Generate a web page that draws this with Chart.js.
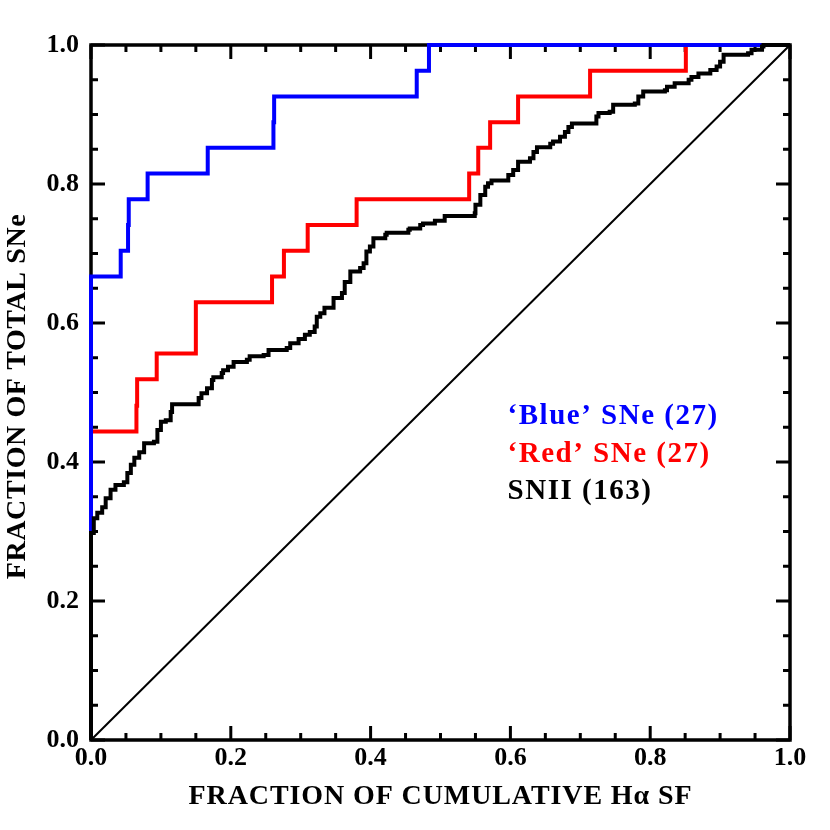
<!DOCTYPE html>
<html>
<head>
<meta charset="utf-8">
<script src="https://cdn.jsdelivr.net/npm/chart.js@4.4.1/dist/chart.umd.min.js"></script>
<style>
  html, body { margin: 0; padding: 0; background: #fff; }
  #wrap { width: 830px; height: 830px; }
</style>
</head>
<body>
<div id="wrap"><canvas id="grafico"></canvas></div>
<script>
// fração acumulada (eixo x) e fração de SNe (eixo y)
const blueX = [0, 0, 0.0425, 0.053, 0.054, 0.081, 0.167, 0.261, 0.262, 0.466, 0.4835, 1.0];
const blueY = [0, 0.667, 0.704, 0.741, 0.778, 0.815, 0.852, 0.889, 0.926, 0.963, 1.0, 1.0];

const redX = [0, 0, 0.065, 0.066, 0.094, 0.150, 0.259, 0.276, 0.310, 0.380, 0.541, 0.554, 0.571, 0.611, 0.714, 0.851, 1.0];
const redY = [0, 0.444, 0.481, 0.519, 0.556, 0.630, 0.667, 0.704, 0.741, 0.778, 0.815, 0.852, 0.889, 0.926, 0.963, 1.0, 1.0];

const sniiX = [0, 0, 0.004, 0.009, 0.016, 0.021, 0.028, 0.035, 0.047, 0.052, 0.057, 0.062, 0.069, 0.076, 0.090, 0.095,
  0.100, 0.107, 0.114, 0.116, 0.154, 0.158, 0.166, 0.173, 0.175, 0.187, 0.189, 0.196, 0.204, 0.223, 0.227, 0.247,
  0.254, 0.280, 0.285, 0.297, 0.306, 0.313, 0.320, 0.323, 0.328, 0.334, 0.347, 0.359, 0.363, 0.371, 0.385, 0.390,
  0.394, 0.399, 0.404, 0.421, 0.423, 0.454, 0.456, 0.471, 0.475, 0.492, 0.506, 0.549, 0.550, 0.557, 0.564, 0.568,
  0.573, 0.597, 0.604, 0.611, 0.628, 0.633, 0.638, 0.657, 0.661, 0.671, 0.678, 0.683, 0.688, 0.723, 0.726, 0.742,
  0.747, 0.778, 0.783, 0.790, 0.821, 0.824, 0.835, 0.855, 0.859, 0.869, 0.886, 0.895, 0.900, 0.905, 0.940, 0.945,
  0.960, 0.962, 1.0];
const sniiY = [0, 0.298, 0.319, 0.327, 0.335, 0.348, 0.360, 0.367, 0.371, 0.384, 0.396, 0.406, 0.414, 0.427, 0.429, 0.446,
  0.458, 0.460, 0.472, 0.483, 0.492, 0.499, 0.506, 0.518, 0.522, 0.528, 0.532, 0.537, 0.544, 0.547, 0.552, 0.554,
  0.561, 0.564, 0.571, 0.577, 0.583, 0.587, 0.595, 0.609, 0.614, 0.622, 0.636, 0.643, 0.659, 0.674, 0.679, 0.686,
  0.703, 0.710, 0.722, 0.727, 0.730, 0.734, 0.736, 0.741, 0.743, 0.747, 0.754, 0.758, 0.770, 0.784, 0.796, 0.801,
  0.805, 0.813, 0.820, 0.832, 0.837, 0.846, 0.853, 0.858, 0.861, 0.868, 0.875, 0.882, 0.887, 0.897, 0.902, 0.904,
  0.914, 0.916, 0.926, 0.933, 0.935, 0.940, 0.945, 0.950, 0.954, 0.959, 0.964, 0.969, 0.976, 0.986, 0.988, 0.993,
  0.998, 1.0, 1.0];

const diagX = [0, 1];
const diagY = [0, 1];

const legendas = ['\u2018Blue\u2019 SNe (27)', '\u2018Red\u2019 SNe (27)', 'SNII (163)'];
const coresLegenda = ['#0000ff', '#ff0000', '#000000'];
const tituloX = 'FRACTION OF CUMULATIVE H\u03b1 SF';
const tituloY = 'FRACTION OF TOTAL SNe';

const fonte = '"Liberation Serif", "DejaVu Serif", serif';

function pontos(xs, ys) {
    return xs.map((x, i) => ({ x: x, y: ys[i] }));
}

// caixa e marcas para dentro nos quatro lados, legenda e títulos
const caixa = {
    id: 'caixa',
    beforeDatasetsDraw(chart) {
        const ctx = chart.ctx;
        const a = chart.chartArea;
        const sx = chart.scales.x;
        const sy = chart.scales.y;
        ctx.save();
        ctx.strokeStyle = '#000';
        ctx.lineWidth = 3;
        for (let i = 0; i <= 20; i++) {
            const v = i * 0.05;
            const len = (i % 4 === 0) ? 14 : 7;
            const px = sx.getPixelForValue(v);
            const py = sy.getPixelForValue(v);
            ctx.beginPath();
            ctx.moveTo(px, a.bottom); ctx.lineTo(px, a.bottom - len);
            ctx.moveTo(px, a.top); ctx.lineTo(px, a.top + len);
            ctx.moveTo(a.left, py); ctx.lineTo(a.left + len, py);
            ctx.moveTo(a.right, py); ctx.lineTo(a.right - len, py);
            ctx.stroke();
        }
        ctx.lineWidth = 3.5;
        ctx.strokeRect(a.left, a.top, a.right - a.left, a.bottom - a.top);
        ctx.restore();
    },
    afterDatasetsDraw(chart) {
        const ctx = chart.ctx;
        const a = chart.chartArea;
        const sx = chart.scales.x;
        const sy = chart.scales.y;
        const posY = [0.466, 0.411, 0.357];
        ctx.save();
        ctx.font = 'bold 29px ' + fonte;
        ctx.letterSpacing = '1.5px';
        ctx.textBaseline = 'middle';
        ctx.textAlign = 'left';
        legendas.forEach((t, i) => {
            ctx.fillStyle = coresLegenda[i];
            ctx.fillText(t, sx.getPixelForValue(0.596), sy.getPixelForValue(posY[i]));
        });

        ctx.fillStyle = '#000';
        ctx.font = 'bold 28px ' + fonte;
        ctx.letterSpacing = '0.9px';
        ctx.textAlign = 'center';
        ctx.fillText(tituloX, (a.left + a.right) / 2, 797);

        ctx.letterSpacing = '0.6px';
        ctx.translate(18, (a.top + a.bottom) / 2 + 4);
        ctx.rotate(-Math.PI / 2);
        ctx.fillText(tituloY, 0, 0);
        ctx.restore();
    }
};

const ctx = document.getElementById('grafico').getContext('2d');
const grafico = new Chart(ctx, {
    type: 'line',
    data: {
        datasets: [
            { data: pontos(sniiX, sniiY), borderColor: '#000', borderWidth: 4, stepped: true },
            { data: pontos(blueX, blueY), borderColor: '#0000ff', borderWidth: 4, stepped: true },
            { data: pontos(redX, redY), borderColor: '#ff0000', borderWidth: 4, stepped: true },
            { data: pontos(diagX, diagY), borderColor: '#000', borderWidth: 2 }
        ]
    },
    options: {
        responsive: true,
        maintainAspectRatio: false,
        animation: false,
        parsing: false,
        layout: { padding: { top: 45, right: 40, left: 0, bottom: 0 } },
        elements: {
            point: { radius: 0 },
            line: { tension: 0, fill: false, borderCapStyle: 'butt', borderJoinStyle: 'miter' }
        },
        datasets: { line: { clip: false } },
        plugins: { legend: { display: false }, tooltip: { enabled: false } },
        scales: {
            x: {
                type: 'linear', min: 0, max: 1,
                afterFit(s) { s.height = 90; },
                grid: { display: false, drawTicks: false },
                border: { display: false },
                ticks: {
                    stepSize: 0.2, padding: 3, color: '#000',
                    font: { family: fonte, size: 26, weight: 'bold' },
                    callback: v => v.toFixed(1)
                }
            },
            y: {
                type: 'linear', min: 0, max: 1,
                afterFit(s) { s.width = 91; },
                grid: { display: false, drawTicks: false },
                border: { display: false },
                ticks: {
                    stepSize: 0.2, padding: 12, color: '#000',
                    font: { family: fonte, size: 26, weight: 'bold' },
                    callback: v => v.toFixed(1)
                }
            }
        }
    },
    plugins: [caixa]
});
</script>
</body>
</html>
